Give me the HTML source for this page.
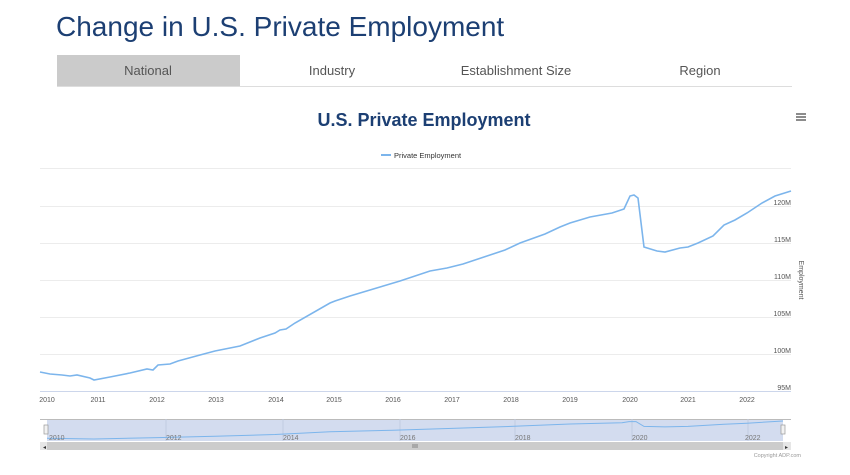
<!DOCTYPE html>
<html><head><meta charset="utf-8"><style>
body{margin:0;background:#fff;width:850px;height:475px;overflow:hidden}
svg{display:block}
text{font-family:"Liberation Sans",sans-serif}
</style></head><body>
<svg width="850" height="475" viewBox="0 0 850 475">
<text x="56" y="36" font-size="28" fill="#1c3f73">Change in U.S. Private Employment</text>
<rect x="57" y="55" width="183" height="31" fill="#cbcbcb"/>
<line x1="57" y1="86.5" x2="792" y2="86.5" stroke="#ddd"/>
<g font-size="13" fill="#555" text-anchor="middle">
<text x="148" y="75">National</text><text x="332" y="75">Industry</text>
<text x="516" y="75">Establishment Size</text><text x="700" y="75">Region</text></g>
<text x="424" y="126" font-size="18" font-weight="bold" fill="#1c3f73" text-anchor="middle">U.S. Private Employment</text>
<g stroke="#666" stroke-width="1.5"><line x1="796" y1="114" x2="806" y2="114"/><line x1="796" y1="117" x2="806" y2="117"/><line x1="796" y1="120" x2="806" y2="120"/></g>
<line x1="381" y1="155" x2="391" y2="155" stroke="#7cb5ec" stroke-width="2"/>
<text x="394" y="158" font-size="7.5" fill="#333">Private Employment</text>
<g stroke="#ececec"><line x1="40" y1="168.5" x2="791" y2="168.5"/><line x1="40" y1="206.5" x2="791" y2="206.5"/><line x1="40" y1="243.5" x2="791" y2="243.5"/><line x1="40" y1="280.5" x2="791" y2="280.5"/><line x1="40" y1="317.5" x2="791" y2="317.5"/><line x1="40" y1="354.5" x2="791" y2="354.5"/></g>
<line x1="40" y1="391.5" x2="791" y2="391.5" stroke="#ccd6eb"/>
<g font-size="7" fill="#555" text-anchor="end"><text x="791" y="205">120M</text><text x="791" y="242">115M</text><text x="791" y="279">110M</text><text x="791" y="316">105M</text><text x="791" y="353">100M</text><text x="791" y="390">95M</text></g>
<text transform="translate(799,280) rotate(90)" font-size="7" fill="#555" text-anchor="middle">Employment</text>
<g font-size="7" fill="#555" text-anchor="middle"><text x="47" y="402">2010</text><text x="98" y="402">2011</text><text x="157" y="402">2012</text><text x="216" y="402">2013</text><text x="276" y="402">2014</text><text x="334" y="402">2015</text><text x="393" y="402">2016</text><text x="452" y="402">2017</text><text x="511" y="402">2018</text><text x="570" y="402">2019</text><text x="630" y="402">2020</text><text x="688" y="402">2021</text><text x="747" y="402">2022</text></g>
<polyline fill="none" stroke="#7cb5ec" stroke-width="1.6" points="40,372 50,374 62,375 70,376 77,375 90,378 94,380 110,377 130,373 147,369 153,370 158,365 170,364 178,361 200,355 215,351 240,346 260,338 275,333 280,330 286,329 295,323 330,303 335,301 350,296 380,287 400,281 430,271 447,268 463,264 490,255 505,250 520,243 545,234 560,227 570,223 590,217 612,213 624,209 630,196 634,195 638,198 644,247 657,251 665,252 680,248 688,247 698,243 713,236 724,225 735,220 747,213 762,203 775,196 791,191"/>
<rect x="47" y="419" width="736" height="22" fill="#d3dcef"/>
<line x1="40" y1="419.5" x2="791" y2="419.5" stroke="#bbb"/>
<g stroke="#c2cbe0"><line x1="166" y1="419" x2="166" y2="441"/><line x1="283" y1="419" x2="283" y2="441"/><line x1="400" y1="419" x2="400" y2="441"/><line x1="515" y1="419" x2="515" y2="441"/><line x1="632" y1="419" x2="632" y2="441"/><line x1="748" y1="419" x2="748" y2="441"/></g>
<polyline fill="none" stroke="#7cb5ec" stroke-width="1" points="47,438.2 94,439 158,437.6 215,436.2 275,434.5 330,431.7 393,430.2 452,428.4 511,426.4 570,424 622,422.8 629,421.6 636,421.6 644,426.4 665,426.9 688,426.4 724,424.3 747,423.2 783,421"/>
<g font-size="7" fill="#777"><text x="49" y="440">2010</text><text x="166" y="440">2012</text><text x="283" y="440">2014</text><text x="400" y="440">2016</text><text x="515" y="440">2018</text><text x="632" y="440">2020</text><text x="745" y="440">2022</text></g>
<rect x="44" y="425" width="4" height="9" fill="#f2f2f2" stroke="#999" stroke-width="0.7"/>
<rect x="781" y="425" width="4" height="9" fill="#f2f2f2" stroke="#999" stroke-width="0.7"/>
<rect x="40" y="442" width="751" height="8" fill="#e6e6e6"/>
<rect x="47" y="442" width="736" height="8" fill="#cccccc"/>
<text x="43" y="449" font-size="6" fill="#333">◂</text><text x="785" y="449" font-size="6" fill="#333">▸</text>
<g stroke="#555" stroke-width="0.6"><line x1="413" y1="444" x2="413" y2="448"/><line x1="415" y1="444" x2="415" y2="448"/><line x1="417" y1="444" x2="417" y2="448"/></g>
<text x="801" y="457" font-size="5.5" fill="#999" text-anchor="end">Copyright ADP.com</text>
</svg>
</body></html>
